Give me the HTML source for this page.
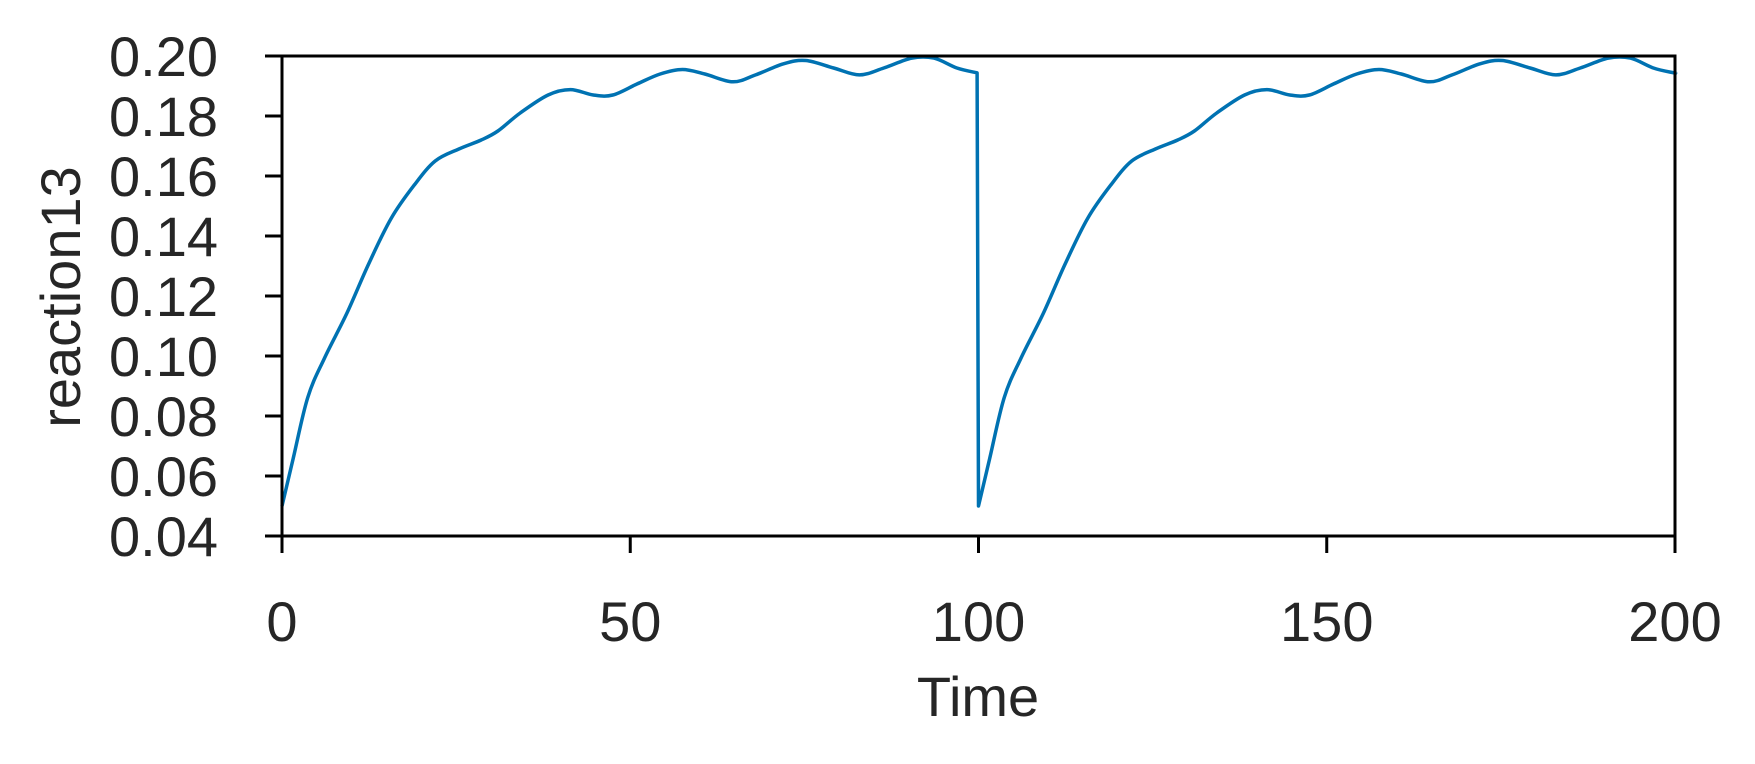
<!DOCTYPE html>
<html><head><meta charset="utf-8"><style>
body{margin:0;background:#fff}
svg text{font-family:"Liberation Sans",sans-serif;fill:#262626}
</style></head><body>
<svg width="1755" height="759" viewBox="0 0 1755 759">
<g id="ticks"></g>
<path id="line" fill="none" stroke="#0072b2" stroke-width="3.5" stroke-linejoin="round"/>
<rect x="282" y="56" width="1393" height="480" fill="none" stroke="#000" stroke-width="3"/>
<text x="978" y="716" font-size="56" text-anchor="middle">Time</text>
<text transform="translate(80,297) rotate(-90)" font-size="56" text-anchor="middle">reaction13</text>
</svg>
<script>
const times=[0,1.6,3.7,6.1,9.3,12.5,15.7,19,22,25.4,28.6,31,34.2,38.2,41.4,44.7,47.5,51,54.3,57.5,60.7,64.7,68,72,75.2,79.2,82.9,86.4,90.4,93.6,96.9,99.8];
const values=[0.050,0.0657,0.0862,0.0993,0.1142,0.131,0.146,0.157,0.165,0.169,0.172,0.175,0.181,0.187,0.1888,0.187,0.187,0.1907,0.194,0.1955,0.194,0.1914,0.1937,0.1974,0.1985,0.196,0.1937,0.196,0.1993,0.1993,0.196,0.1944];
const xTicks=[0,50,100,150,200];
const yTicks=[0.04,0.06,0.08,0.10,0.12,0.14,0.16,0.18,0.20];
const X0=282,X1=1675,Y0=536,Y1=56;
const sx=t=>X0+(t/200)*(X1-X0);
const sy=v=>Y0-(v-0.04)/0.16*(Y0-Y1);
const NS="http://www.w3.org/2000/svg";
const g=document.getElementById('ticks');
function spline(p){
 let d='M'+p[0][0].toFixed(1)+','+p[0][1].toFixed(1);
 for(let i=0;i<p.length-1;i++){
  const p0=p[Math.max(0,i-1)],p1=p[i],p2=p[i+1],p3=p[Math.min(p.length-1,i+2)];
  const c1=[p1[0]+(p2[0]-p0[0])/6,p1[1]+(p2[1]-p0[1])/6];
  const c2=[p2[0]-(p3[0]-p1[0])/6,p2[1]-(p3[1]-p1[1])/6];
  d+='C'+c1[0].toFixed(1)+','+c1[1].toFixed(1)+' '+c2[0].toFixed(1)+','+c2[1].toFixed(1)+' '+p2[0].toFixed(1)+','+p2[1].toFixed(1);
 }
 return d;
}
const a=times.map((t,i)=>[sx(t),sy(values[i])]);
const b=times.map((t,i)=>[sx(t+100),sy(values[i])]);
b.push([sx(200),sy(values[values.length-1])]);
const dA=spline(a), dB=spline(b);
document.getElementById('line').setAttribute('d',dA+'L'+b[0][0].toFixed(1)+','+b[0][1].toFixed(1)+dB.replace(/^M/,'L'));
xTicks.forEach(t=>{
 const l=document.createElementNS(NS,'line');
 l.setAttribute('x1',sx(t));l.setAttribute('x2',sx(t));l.setAttribute('y1',Y0);l.setAttribute('y2',Y0+17);
 l.setAttribute('stroke','#000');l.setAttribute('stroke-width','3');
 
 
 g.appendChild(l);
 const tx=document.createElementNS(NS,'text');
 tx.setAttribute('x',sx(t));tx.setAttribute('y',641);tx.setAttribute('font-size','56');tx.setAttribute('text-anchor','middle');
 tx.textContent=t;
 
 
 g.appendChild(tx);
});
yTicks.forEach(v=>{
 const l=document.createElementNS(NS,'line');
 l.setAttribute('x1',X0-17);l.setAttribute('x2',X0);l.setAttribute('y1',sy(v));l.setAttribute('y2',sy(v));
 l.setAttribute('stroke','#000');l.setAttribute('stroke-width','3');
 
 
 g.appendChild(l);
 const tx=document.createElementNS(NS,'text');
 tx.setAttribute('x',218);tx.setAttribute('y',sy(v)+20);tx.setAttribute('font-size','56');tx.setAttribute('text-anchor','end');
 tx.textContent=v.toFixed(2);
 
 
 g.appendChild(tx);
});
</script>
</body></html>
